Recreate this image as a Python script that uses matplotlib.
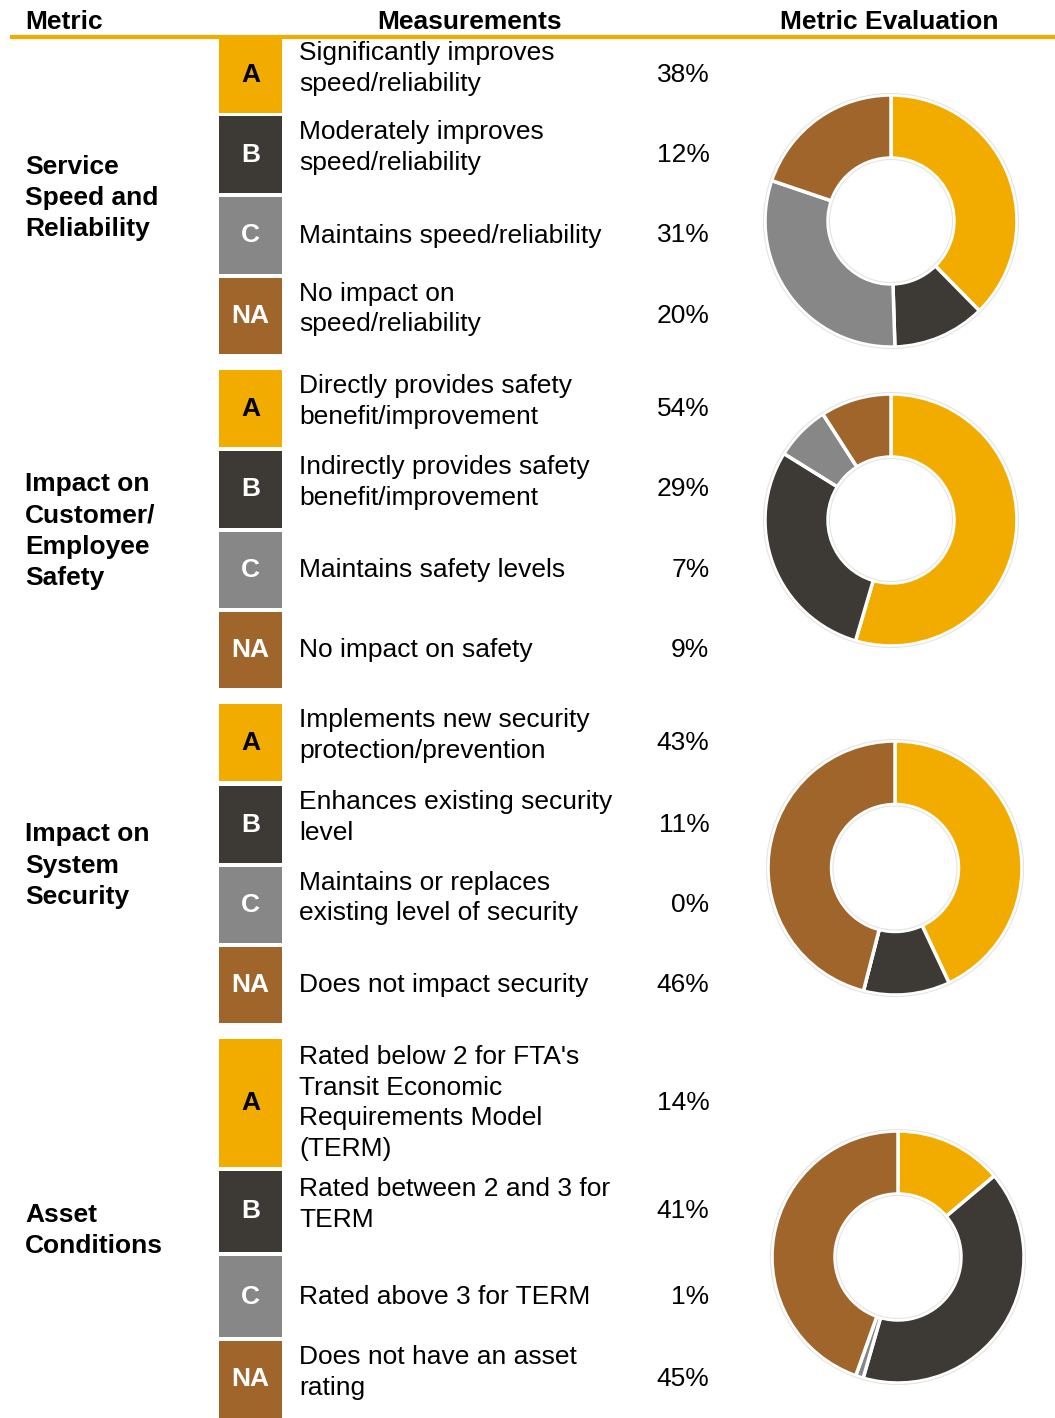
import matplotlib
matplotlib.use("Agg")
import matplotlib.pyplot as plt
from matplotlib.patches import Rectangle, Circle

plt.rcParams['font.family'] = ['Liberation Sans', 'DejaVu Sans']

W, H = 1055, 1418

ORANGE = '#F2AC00'
DARK = '#3D3935'
GREY = '#878787'
BROWN = '#A0652A'

grades = ['A', 'B', 'C', 'NA']
grade_colors = [ORANGE, DARK, GREY, BROWN]
grade_text = ['black', 'white', 'white', 'white']

metrics = [
    'Service\nSpeed and\nReliability',
    'Impact on\nCustomer/\nEmployee\nSafety',
    'Impact on\nSystem\nSecurity',
    'Asset\nConditions',
]

measures = [
    ['Significantly improves\nspeed/reliability',
     'Moderately improves\nspeed/reliability',
     'Maintains speed/reliability',
     'No impact on\nspeed/reliability'],
    ['Directly provides safety\nbenefit/improvement',
     'Indirectly provides safety\nbenefit/improvement',
     'Maintains safety levels',
     'No impact on safety'],
    ['Implements new security\nprotection/prevention',
     'Enhances existing security\nlevel',
     'Maintains or replaces\nexisting level of security',
     'Does not impact security'],
    ["Rated below 2 for FTA's\nTransit Economic\nRequirements Model\n(TERM)",
     'Rated between 2 and 3 for\nTERM',
     'Rated above 3 for TERM',
     'Does not have an asset\nrating'],
]

shares = [
    [38, 12, 31, 20],
    [54, 29, 7, 9],
    [43, 11, 0, 46],
    [14, 41, 1, 45],
]

# row boxes (top, bottom) in pixels
rows = [
    [(38, 113), (116, 193), (197, 274), (278, 354)],
    [(370, 447), (451, 528), (532, 608), (612, 688)],
    [(704, 781), (786, 863), (867, 943), (947, 1023)],
    [(1039, 1167), (1171, 1252), (1256, 1337), (1341, 1418)],
]

# donut centres and outer radius in pixels
donuts = [(891, 221, 126), (891, 520, 126), (895, 868, 127), (898, 1257, 126)]

# wrapped cell text sits a little above the row centre
lift = {1: 0, 2: -7, 3: -4, 4: 0}

fig = plt.figure(figsize=(W / 100, H / 100), dpi=100)
ax = fig.add_axes([0, 0, 1, 1])
ax.set_xlim(0, W)
ax.set_ylim(H, 0)
ax.axis('off')

# header
hdr = dict(fontsize=19, fontweight='bold', va='center')
ax.text(25, 22, 'Metric', ha='left', **hdr)
ax.text(470, 22, 'Measurements', ha='center', **hdr)
ax.text(889, 22, 'Metric Evaluation', ha='center', **hdr)
ax.plot([10, W], [37, 37], color=ORANGE, lw=3, solid_capstyle='butt')

for s in range(4):
    top = rows[s][0][0]
    bot = rows[s][-1][1]
    ax.text(25, (top + bot) / 2 + 2, metrics[s], ha='left', va='center',
            fontsize=19, fontweight='bold', linespacing=1.38)
    for r in range(4):
        y0, y1 = rows[s][r]
        yc = (y0 + y1) / 2
        txt = measures[s][r]
        ax.add_patch(Rectangle((219, y0), 63, y1 - y0, color=grade_colors[r], lw=0))
        ax.text(250.5, yc, grades[r], ha='center', va='center',
                fontsize=19, fontweight='bold', color=grade_text[r])
        ax.text(299, yc + lift[txt.count('\n') + 1], txt, ha='left', va='center',
                fontsize=19, linespacing=1.34)
        ax.text(709.5, yc, f'{shares[s][r]}%', ha='right', va='center', fontsize=19)

    cx, cy, rad = donuts[s]
    dax = fig.add_axes([(cx - rad - 4) / W, 1 - (cy + rad + 4) / H,
                        (2 * rad + 8) / W, (2 * rad + 8) / H])
    dax.pie(shares[s], colors=grade_colors, startangle=90, counterclock=False,
            radius=rad, wedgeprops=dict(width=rad * 0.5, edgecolor='white', linewidth=2.5))
    dax.add_patch(Circle((0, 0), rad + 1.5, fill=False, ec='#E4E4E4', lw=0.8))
    dax.add_patch(Circle((0, 0), rad * 0.5 - 1.5, fill=False, ec='#E4E4E4', lw=0.8))
    dax.set_xlim(-rad - 4, rad + 4)
    dax.set_ylim(-rad - 4, rad + 4)
    dax.set_aspect('equal')
    dax.axis('off')

fig.savefig('out.png', dpi=100)
